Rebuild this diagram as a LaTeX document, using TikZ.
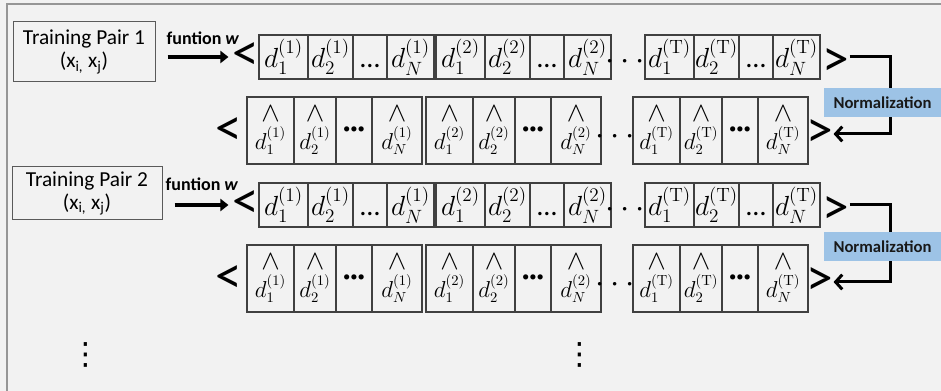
\documentclass[tikz,border=0pt]{standalone}
\usepackage[no-math]{fontspec}
\setmainfont{Carlito}
\newfontfamily\symfont{DejaVu Sans}
\usepackage{amsmath}
\usetikzlibrary{arrows.meta,positioning}
\definecolor{bggray}{RGB}{242,242,242}
\definecolor{framegray}{RGB}{150,150,150}
\definecolor{boxgray}{RGB}{90,90,90}
\definecolor{cellgray}{RGB}{64,64,64}
\definecolor{normblue}{RGB}{157,195,230}
\definecolor{textdark}{RGB}{25,25,25}
\newcommand{\hatmark}{{\fontsize{20}{20}\selectfont$\wedge$}}
\newcommand{\plaingroup}[4]{%
  \node[dcell,minimum width=36.75pt,anchor=north west] (#1-1) at (#2,#3) {$d_1^{(#4)}$};
  \node[dcell,minimum width=33.75pt,right=0pt of #1-1] (#1-2) {$d_2^{(#4)}$};
  \node[dcell,minimum width=25.5pt,right=0pt of #1-2] (#1-3) {$\vphantom{d_1^{(1)}}$…};
  \node[dcell,minimum width=35.25pt,right=0pt of #1-3] (#1-4) {$d_N^{(#4)}$};}
\newcommand{\hatgroup}[4]{%
  \node[hcell,minimum width=35.25pt,anchor=north west] (#1-1) at (#2,#3) {\hatmark\\[3pt]$d_1^{(#4)}$};
  \node[hcell,minimum width=31.5pt,right=0pt of #1-1] (#1-2) {\hatmark\\[3pt]$d_2^{(#4)}$};
  \node[hcell,minimum width=27pt,right=0pt of #1-2,font=\fontsize{11}{11}\selectfont] (#1-3) {•••};
  \node[hcell,minimum width=37.5pt,right=0pt of #1-3] (#1-4) {\hatmark\\[3pt]$d_N^{(#4)}$};}

\begin{document}
\begin{tikzpicture}[x=0.75pt,y=-0.75pt,
    pairbox/.style={draw=boxgray,line width=0.75pt,align=center,inner sep=0pt,
      font=\fontsize{16}{17}\selectfont},
    dcell/.style={draw=cellgray,line width=1pt,outer sep=0pt,inner sep=0pt,
      minimum height=33pt,font=\fontsize{21}{21}\selectfont},
    hcell/.style={draw=cellgray,line width=1pt,outer sep=0pt,inner sep=0pt,
      minimum height=50.25pt,align=center,font=\fontsize{16}{12}\selectfont},
    fnlabel/.style={font=\bfseries\fontsize{13.5}{15}\selectfont},
    fnarrow/.style={-{Triangle[length=6pt,width=9pt]},line width=3pt,shorten <=9pt,shorten >=3pt},
    angle/.style={font=\fontsize{40}{40}\selectfont,inner sep=0pt},
    gapdots/.style={font=\fontsize{25}{25}\selectfont,inner sep=0pt},
    normline/.style={-{Straight Barb[length=5pt,width=11pt]},line width=2.25pt},
    normbox/.style={fill=normblue,minimum width=87.75pt,minimum height=21.75pt,
      font=\bfseries\fontsize{12.5}{14}\selectfont,text=textdark},
    moredots/.style={font=\symfont\fontsize{23}{23}\selectfont,inner sep=0pt}
  ]
    \fill[bggray] (0,0) rectangle (941,391);
    \useasboundingbox (0,0) rectangle (941,391);
    \draw[framegray,line width=1pt] (7,400) -- (7,4) -- (960,4);

    % first training pair
    \node[pairbox,minimum width=106.5pt,minimum height=45pt] (pair1) at (84,52) {Training Pair 1\\(x\textsubscript{i,} x\textsubscript{j})};
    \node[fnlabel] (fn1) at (203,38) {funtion \textit{w}};
    \node[angle] (open1) at (246,57) {<};
    \plaingroup{r1a}{259}{35}{1}
    \plaingroup{r1b}{436}{35}{2}
    \node[gapdots] (gap1) at (628,62) {$\cdots$};
    \plaingroup{r1t}{645}{35}{\mathrm{T}}
    \node[angle] (close1) at (836,63) {>};

    \node[angle] (open2) at (229,132) {<};
    \hatgroup{r2a}{247}{97}{1}
    \hatgroup{r2b}{426}{97}{2}
    \node[gapdots] (gap2) at (618,137) {$\cdots$};
    \hatgroup{r2t}{633}{97}{\mathrm{T}}
    \node[angle] (close2) at (820,134) {>};

    \draw[fnarrow] (pair1.east |- open1.west) -- (open1.west);
    \coordinate (turn1) at (890,57);
    \draw[normline] (close1.east |- turn1) -- (turn1) |- (close2.east);
    \node[normbox] (norm1) at (882.5,103) {Normalization};

    % second training pair
    \node[pairbox,minimum width=112.5pt,minimum height=39.75pt] (pair2) at (87,193.5) {Training Pair 2\\(x\textsubscript{i,} x\textsubscript{j})};
    \node[fnlabel] (fn2) at (202,184) {funtion \textit{w}};
    \node[angle] (open3) at (246,205) {<};
    \plaingroup{r3a}{259}{183}{1}
    \plaingroup{r3b}{436}{183}{2}
    \node[gapdots] (gap3) at (628,210) {$\cdots$};
    \plaingroup{r3t}{645}{183}{\mathrm{T}}
    \node[angle] (close3) at (836,211) {>};

    \node[angle] (open4) at (229,280) {<};
    \hatgroup{r4a}{247}{245}{1}
    \hatgroup{r4b}{426}{245}{2}
    \node[gapdots] (gap4) at (618,285) {$\cdots$};
    \hatgroup{r4t}{633}{245}{\mathrm{T}}
    \node[angle] (close4) at (820,282) {>};

    \draw[fnarrow] (pair2.east |- open3.west) -- (open3.west);
    \coordinate (turn2) at (890,205);
    \draw[normline] (close3.east |- turn2) -- (turn2) |- (close4.east);
    \node[normbox] (norm2) at (882.5,247) {Normalization};

    % more pairs
    \node[moredots] (more1) at (86,355) {⋮};
    \node[moredots] (more2) at (580,355) {⋮};
\end{tikzpicture}
\end{document}
